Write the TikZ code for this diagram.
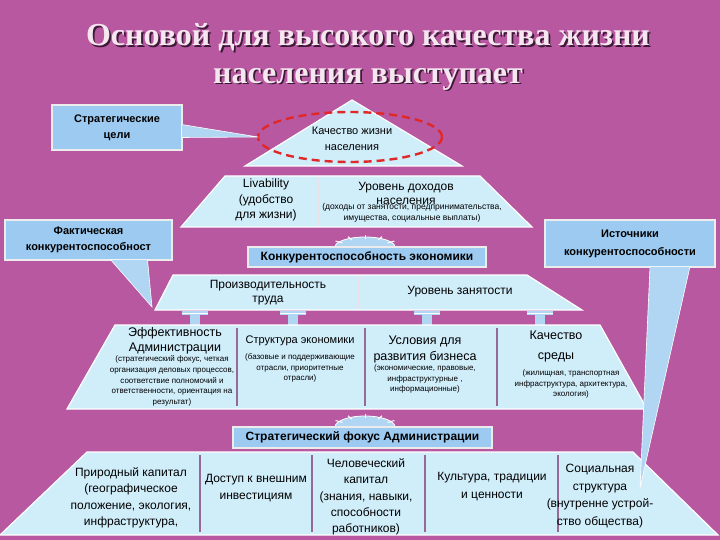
\documentclass[tikz,border=0pt]{standalone}
\usepackage{fontspec}
\setmainfont{Liberation Sans}
\newfontfamily\titlefont{Liberation Serif}
\usetikzlibrary{calc}
\definecolor{bg}{RGB}{184,88,160}
\definecolor{pyr}{RGB}{208,237,250}
\definecolor{bx}{RGB}{156,202,240}
\definecolor{lbx}{RGB}{176,214,244}
\definecolor{ttl}{RGB}{246,230,240}
\definecolor{shd}{RGB}{60,25,55}
\definecolor{dv}{RGB}{150,105,150}
\definecolor{rd}{RGB}{225,40,40}
\begin{document}
\begin{tikzpicture}[x=1pt,y=-1pt,
  tier/.style={fill=pyr,draw=white,line width=1.2pt},
  divl/.style={draw=dv,line width=1.3pt},
  callbox/.style={draw=white!85!gray,line width=1.2pt,fill=bx,align=center,inner sep=0pt},
  wedge/.style={fill=lbx,draw=white,line width=0.6pt},
  big/.style={font=\fontsize{12}{14}\selectfont,align=center,inner sep=0pt},
  mid/.style={font=\fontsize{11}{14}\selectfont,align=center,inner sep=0pt},
  small/.style={font=\fontsize{8}{10.7}\selectfont,align=center,inner sep=0pt},
  dome/.style={fill=lbx,draw=white,line width=0.8pt},
  tconn/.style={fill=lbx,draw=none}]
\fill[bg] (0,0) rectangle (720,540);
\useasboundingbox (0,0) rectangle (720,540);

% title
\foreach \dx/\col in {1.8/shd,0/ttl}{
  \node[font=\titlefont\bfseries\fontsize{32}{34}\selectfont,text=\col,inner sep=0pt]
    at ($(368,37)+(\dx,\dx)$) {Основой для высокого качества жизни};
  \node[font=\titlefont\bfseries\fontsize{32}{34}\selectfont,text=\col,inner sep=0pt]
    at ($(368,79)+(\dx,\dx)$) {населения выступает};
}

% tier 1
\draw[tier] (245,166) -- (352,100) -- (462,166) -- cycle;
\node[mid,font=\fontsize{11}{16}\selectfont] (kzh) at (352,139) {Качество жизни\\населения};
\draw[rd,line width=2.4pt,dash pattern=on 8pt off 5pt] (350,137) ellipse [x radius=92,y radius=25];

% tier 2
\draw[tier] (225,176) -- (480,176) -- (532,227) -- (181,227) -- cycle;
\draw[divl,draw=white!80!dv] (318,177) -- (318,226);
\node[big,font=\fontsize{12}{15.5}\selectfont] (liv) at (266,200) {Livability\\(удобство\\для жизни)};
\node[big] (udn) at (406,193) {Уровень доходов\\населения};
\node[small,font=\fontsize{8.5}{10.5}\selectfont] (udn2) at (412,213) {(доходы от занятости, предпринимательства,\\имущества, социальные выплаты)};

% competitiveness box with dome
\draw[dome] (335,247) arc[start angle=180,end angle=360,x radius=30,y radius=10];
\foreach \a in {30,60,90,120,150}{\draw[white,line width=1pt] ($(365,247)+(\a:26 and -8)$) -- ($(365,247)+(\a:34 and -12)$);}
\node[callbox,minimum width=238,minimum height=20,font=\bfseries\fontsize{12}{13}\selectfont] (ke) at (367,257)
  {Конкурентоспособность экономики};

% tier 4
\draw[tier] (173,275) -- (527,275) -- (582,310) -- (155,310) -- cycle;
\draw[divl,draw=white!80!dv] (358,276) -- (358,309);
\node[big] (pt) at (268,293) {Производительность\\труда};
\node[big] (uz) at (460,292) {Уровень занятости};

% T connectors
\foreach \xx in {195,293,427,540}{
  \fill[tconn] (\xx-13,311) rectangle (\xx+13,315);
  \fill[tconn] (\xx-5,313) rectangle (\xx+5,325);
  \draw[white,line width=0.6pt] (\xx-13,313) -- (\xx+13,313);
}

% tier 5
\draw[tier] (115,325) -- (600,325) -- (647,409) -- (67,409) -- cycle;
\draw[divl] (237,328) -- (237,406);
\draw[divl] (365,328) -- (365,406);
\draw[divl] (497,328) -- (497,406);
\node[big,font=\fontsize{12.5}{15}\selectfont] (ea) at (175,341) {Эффективность\\Администрации};
\node[small] (ea2) at (172,381) {(стратегический фокус, четкая\\организация деловых процессов,\\соответствие полномочий и\\ответственности, ориентация на\\результат)};
\node[mid] (se) at (300,341) {Структура экономики};
\node[small] (se2) at (300,368) {(базовые и поддерживающие\\отрасли, приоритетные\\отрасли)};
\node[big,font=\fontsize{12.5}{16}\selectfont] (ur) at (425,349) {Условия для\\развития бизнеса};
\node[small] (ur2) at (425,379) {(экономические, правовые,\\инфраструктурные ,\\информационные)};
\node[big,font=\fontsize{12.5}{20}\selectfont] (ks) at (556,346) {Качество\\среды};
\node[small] (ks2) at (571,384) {(жилищная, транспортная\\инфраструктура, архитектура,\\экология)};

% strategic focus box with dome
\draw[dome] (335,427) arc[start angle=180,end angle=360,x radius=30,y radius=11];
\foreach \a in {30,60,90,120,150}{\draw[white,line width=1pt] ($(365,427)+(\a:26 and -9)$) -- ($(365,427)+(\a:34 and -13)$);}
\node[callbox,minimum width=259,minimum height=21,font=\bfseries\fontsize{12}{13}\selectfont] (sf) at (362.5,437.5)
  {Стратегический фокус Администрации};

% tier 6
\draw[tier] (87,452) -- (633,452) -- (718,535) -- (0,535) -- cycle;
\draw[divl] (200,455) -- (200,532);
\draw[divl] (312,455) -- (312,532);
\draw[divl] (425,455) -- (425,532);
\draw[divl] (558,455) -- (558,532);
\node[big,font=\fontsize{12}{16.5}\selectfont] (pk) at (131,498) {Природный капитал\\(географическое\\положение, экология,\\инфраструктура,};
\node[big,font=\fontsize{12}{17}\selectfont] (dv) at (256,488) {Доступ к внешним\\инвестициям};
\node[big,font=\fontsize{12}{16.3}\selectfont] (chk) at (366,497) {Человеческий\\капитал\\(знания, навыки,\\способности\\работников)};
\node[big,font=\fontsize{12}{18}\selectfont] (ktc) at (492,487) {Культура, традиции\\и ценности};
\node[big,font=\fontsize{12}{17.5}\selectfont] (ss) at (600,496) {Социальная\\структура\\(внутренне устрой-\\ство общества)};

% callouts
\coordinate (t1) at (258,137);
\coordinate (t2) at (152,307);
\coordinate (t3) at (640,488);
\node[callbox,minimum width=130,minimum height=45,font=\bfseries\fontsize{11}{16}\selectfont] (sc) at (117,127.5)
  {Стратегические\\цели};
\draw[wedge] ($(sc.east)+(-1,-3)$) -- (t1) -- ($(sc.east)+(-1,10)$) -- cycle;
\node[callbox,minimum width=167,minimum height=40,font=\bfseries\fontsize{11}{16}\selectfont] (fk) at (88.5,240)
  {Фактическая\\конкурентоспособност};
\draw[wedge] ($(fk.south)+(22,-1)$) -- (t2) -- ($(fk.south)+(59,-1)$) -- cycle;
\node[callbox,minimum width=170,minimum height=47,font=\bfseries\fontsize{11}{18}\selectfont] (ik) at (630,243.5)
  {Источники\\конкурентоспособности};
\draw[wedge] ($(ik.south)+(20,-1)$) -- (t3) -- ($(ik.south)+(60,-1)$) -- cycle;
\end{tikzpicture}
\end{document}
